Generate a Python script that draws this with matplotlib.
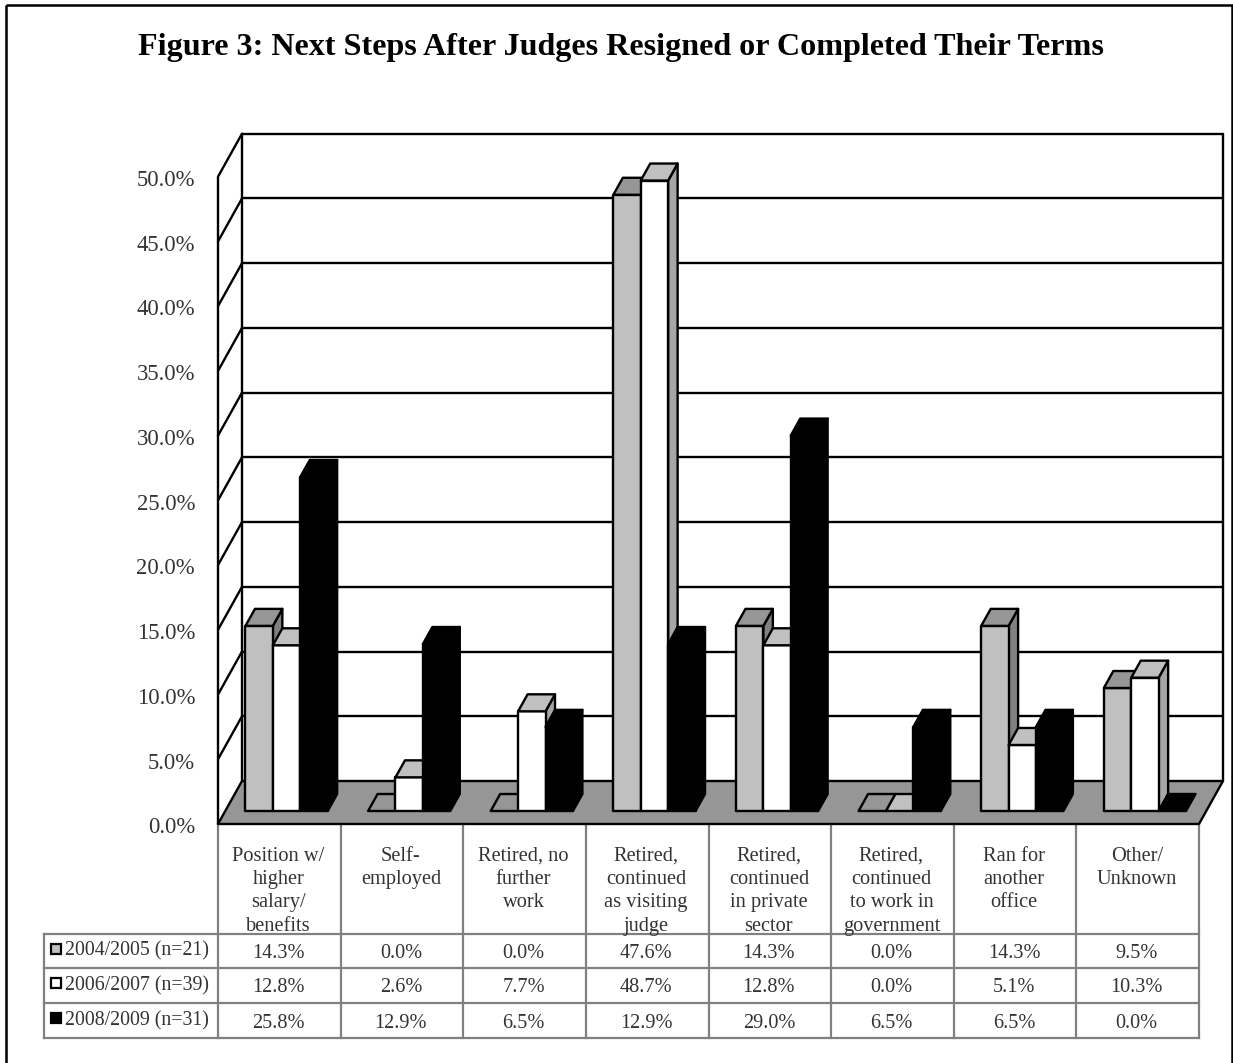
import matplotlib
matplotlib.use("Agg")
import matplotlib.pyplot as plt
from matplotlib.patches import Polygon, Rectangle
from matplotlib.transforms import ScaledTranslation

plt.rcParams["font.family"] = ["Liberation Serif", "DejaVu Serif"]

title = "Figure 3: Next Steps After Judges Resigned or Completed Their Terms"
categories = [
    "Position w/\nhigher\nsalary/\nbenefits",
    "Self-\nemployed",
    "Retired, no\nfurther\nwork",
    "Retired,\ncontinued\nas visiting\njudge",
    "Retired,\ncontinued\nin private\nsector",
    "Retired,\ncontinued\nto work in\ngovernment",
    "Ran for\nanother\noffice",
    "Other/\nUnknown",
]
series_names = ["2004/2005 (n=21)", "2006/2007 (n=39)", "2008/2009 (n=31)"]
values_0405 = [14.3, 0.0, 0.0, 47.6, 14.3, 0.0, 14.3, 9.5]
values_0607 = [12.8, 2.6, 7.7, 48.7, 12.8, 0.0, 5.1, 10.3]
values_0809 = [25.8, 12.9, 6.5, 12.9, 29.0, 6.5, 6.5, 0.0]
y_ticks = [0, 5, 10, 15, 20, 25, 30, 35, 40, 45, 50]

W, H = 1233, 1063
fig = plt.figure(figsize=(W / 100, H / 100), dpi=100, facecolor="white")

# page layer in pixels: frame, title, table
page = fig.add_axes([0, 0, 1, 1])
page.set_xlim(0, W)
page.set_ylim(H, 0)
page.axis("off")

# chart layer: front plane of the 3d box, categories on x, percent on y
X0, X1, Y0, Y50 = 218, 1199, 824, 176.7
chart = fig.add_axes([X0 / W, (H - Y0) / H, (X1 - X0) / W, (Y0 - Y50) / H])
chart.set_xlim(0, 8)
chart.set_ylim(0, 50)
chart.patch.set_alpha(0)
for s in chart.spines.values():
    s.set_visible(False)
chart.set_xticks([])
chart.set_yticks(y_ticks)
chart.set_yticklabels([f"{v:.1f}%" for v in y_ticks], fontsize=16.3, color="#333333")
chart.tick_params(axis="y", length=0, pad=16.5)
# tick labels sit a little lower than the gridline ends
shift = ScaledTranslation(0, -0.013, fig.dpi_scale_trans)
for lab in chart.get_yticklabels():
    lab.set_transform(lab.get_transform() + shift)

# depth of the box in chart units
px_x = 8 / (X1 - X0)
px_y = 50 / (Y0 - Y50)
DX = 24 * px_x
DY = 43 * px_y
LW = 1.7


def line(xs, ys, color="black", lw=LW, z=2):
    chart.plot(xs, ys, color=color, lw=lw, zorder=z, clip_on=False, solid_capstyle="round")


def poly(pts, color, z=3):
    chart.add_patch(Polygon(pts, closed=True, facecolor=color, edgecolor="black",
                            lw=LW, joinstyle="round", zorder=z, clip_on=False))


# floor
poly([(0, 0), (8, 0), (8 + DX, DY), (DX, DY)], "#969696", z=2.5)

# walls and gridlines
for v in y_ticks[1:]:
    line([DX, 8 + DX], [v + DY, v + DY])
    line([0, DX], [v, v + DY])
line([0, 0], [0, 50])
line([DX, DX], [DY, 50 + DY])
line([8 + DX, 8 + DX], [DY, 50 + DY])

# 3d bars
series = [values_0405, values_0607, values_0809]
faces = [
    ("#C0C0C0", "#969696", "#808080"),
    ("#FFFFFF", "#C0C0C0", "#A6A6A6"),
    ("#000000", "#000000", "#000000"),
]
front_t = 13 / 43
deep_t = 30 / 43
bar_w = 27.4 * px_x
gap = (1 - 3 * bar_w) / 2
z = 3
for c in range(len(categories)):
    for k, vals in enumerate(series):
        v = vals[c]
        front, top, side = faces[k]
        x = c + gap + k * bar_w + front_t * DX
        y = front_t * DY
        ddx = (deep_t - front_t) * DX
        ddy = (deep_t - front_t) * DY
        if v > 0:
            poly([(x + bar_w, y), (x + bar_w + ddx, y + ddy),
                  (x + bar_w + ddx, y + ddy + v), (x + bar_w, y + v)], side, z)
            poly([(x, y), (x + bar_w, y), (x + bar_w, y + v), (x, y + v)], front, z)
        poly([(x, y + v), (x + bar_w, y + v),
              (x + bar_w + ddx, y + v + ddy), (x + ddx, y + v + ddy)], top, z)
        z += 0.01

# frame, open at the bottom edge of the picture
page.add_patch(Rectangle((6, 5), 1226, 1063, fill=False, edgecolor="black", lw=1.8))

page.text(621, 48, title, fontsize=23.1, fontweight="bold", ha="center", va="center", color="black")

# data table
GRAY = "#808080"
col_w = (X1 - X0) / 8
row_y = [934, 968, 1003, 1038]
for i in range(9):
    x = X0 + i * col_w
    page.plot([x, x], [824, row_y[-1]], color=GRAY, lw=1.6, zorder=1)
for y in row_y:
    page.plot([44, X1], [y, y], color=GRAY, lw=1.6, zorder=1)
page.plot([44, 44], [row_y[0], row_y[-1]], color=GRAY, lw=1.6, zorder=1)

for c, cat in enumerate(categories):
    page.text(X0 + (c + 0.5) * col_w - 1, 847, cat, fontsize=14.7, ha="center", va="top",
              linespacing=1.30, color="#333333")

for k, name in enumerate(series_names):
    ymid = (row_y[k] + row_y[k + 1]) / 2
    page.add_patch(Rectangle((51, ymid - 7.5), 10, 10, facecolor=faces[k][0], edgecolor="black", lw=1.6))
    page.text(65, ymid, name, fontsize=14.3, ha="left", va="center", color="#333333")
    for c in range(len(categories)):
        page.text(X0 + (c + 0.5) * col_w - 1, ymid + 2.5, f"{series[k][c]:.1f}%", fontsize=14.6,
                  ha="center", va="center", color="#333333")

fig.savefig("out.png", dpi=100)
